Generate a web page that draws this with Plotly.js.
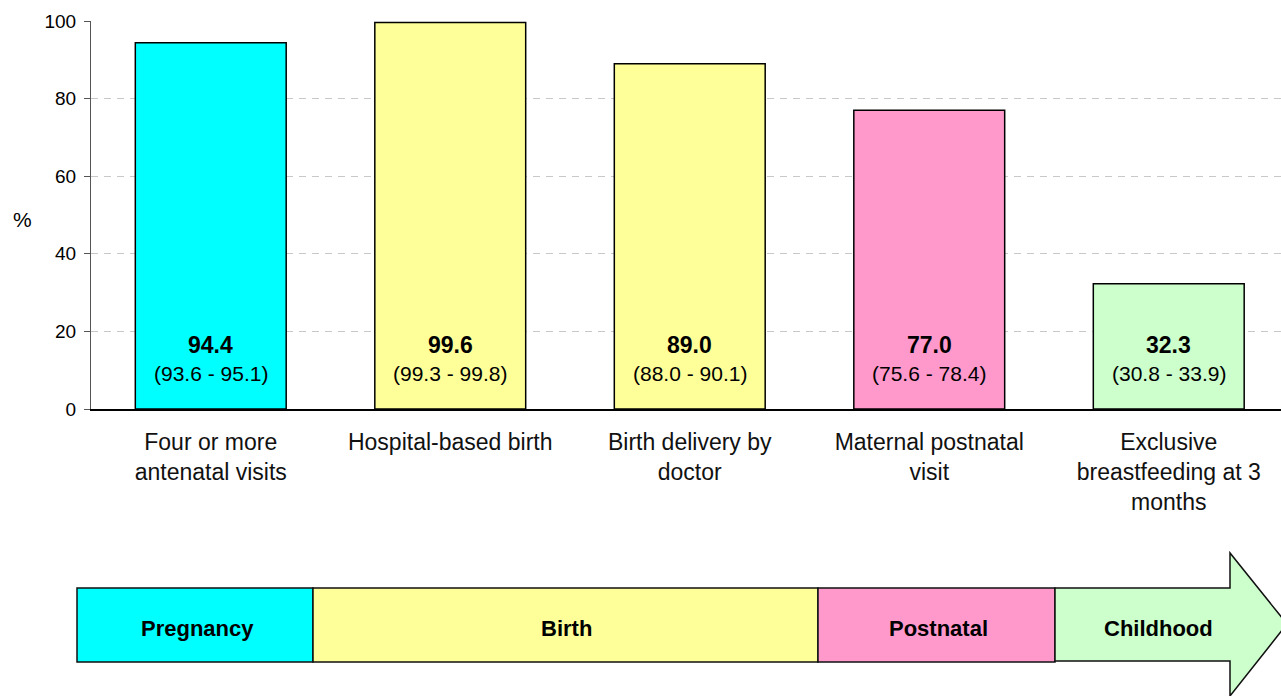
<!DOCTYPE html>
<html>
<head>
<meta charset="utf-8">
<script src="https://cdn.plot.ly/plotly-3.0.1.min.js"></script>
<style>html,body{margin:0;padding:0;overflow:hidden;background:#fff}#chart{width:1281px;height:696px}</style>
</head>
<body>
<div id="chart"></div>
<script>
const categories = [
  "Four or more<br>antenatal visits",
  "Hospital-based birth",
  "Birth delivery by<br>doctor",
  "Maternal postnatal<br>visit",
  "Exclusive<br>breastfeeding at 3<br>months"
];
const values = [94.4, 99.6, 89.0, 77.0, 32.3];
const ciLow = [93.6, 99.3, 88.0, 75.6, 30.8];
const ciHigh = [95.1, 99.8, 90.1, 78.4, 33.9];
const barColors = ["#00FFFF", "#FFFF99", "#FFFF99", "#FF99CC", "#CCFFCC"];
const stages = ["Pregnancy", "Birth", "Postnatal", "Childhood"];
const stageColors = ["#00FFFF", "#FFFF99", "#FF99CC", "#CCFFCC"];
const yTicks = [0, 20, 40, 60, 80, 100];

const FONT = "Liberation Sans, Arial, Helvetica, sans-serif";
const L = 91, T = 21, W = 1190, H = 388;
const px = x => (x - L) / W;
const py = y => (T + H - y) / H;

const trace = {
  type: "bar",
  x: categories,
  y: values,
  width: 0.63,
  marker: { color: barColors, line: { color: "#000", width: 1.5 } },
  hoverinfo: "skip"
};

const annotations = [];
categories.forEach((c, i) => {
  annotations.push({
    x: c, y: 16.5, xref: "x", yref: "y", showarrow: false,
    xanchor: "center", yanchor: "middle",
    text: "<b>" + values[i].toFixed(1) + "</b>",
    font: { family: FONT, size: 23, color: "#000" }
  });
  annotations.push({
    x: c, y: 9.2, xref: "x", yref: "y", showarrow: false,
    xanchor: "center", yanchor: "middle",
    text: "(" + ciLow[i].toFixed(1) + " - " + ciHigh[i].toFixed(1) + ")",
    font: { family: FONT, size: 21, color: "#000" }
  });
});
annotations.push({
  x: px(22), y: py(220), xref: "paper", yref: "paper", showarrow: false,
  xanchor: "center", yanchor: "middle",
  text: "%", font: { family: FONT, size: 21, color: "#000" }
});

const boxes = [[77, 313], [313, 818], [818, 1055]];
const shapes = [];
boxes.forEach((b, i) => {
  shapes.push({
    type: "rect", xref: "paper", yref: "paper",
    x0: px(b[0]), x1: px(b[1]), y0: py(662), y1: py(588),
    fillcolor: stageColors[i], line: { color: "#111", width: 1.5 }
  });
});
const arrowPts = [[1055, 588], [1230, 588], [1230, 553], [1287, 624], [1230, 696], [1230, 661], [1055, 661]];
shapes.push({
  type: "path", xref: "paper", yref: "paper",
  path: "M " + arrowPts.map(p => px(p[0]) + "," + py(p[1])).join(" L ") + " Z",
  fillcolor: stageColors[3], line: { color: "#111", width: 1.5 }
});
const stageCenters = [197, 566, 938, 1158];
stages.forEach((s, i) => {
  annotations.push({
    x: px(stageCenters[i]), y: py(628), xref: "paper", yref: "paper", showarrow: false,
    xanchor: "center", yanchor: "middle",
    text: "<b>" + s + "</b>", font: { family: FONT, size: 22, color: "#000" }
  });
});

const layout = {
  width: 1281, height: 696,
  margin: { l: L, r: 1281 - L - W, t: T, b: 696 - T - H, pad: 0 },
  paper_bgcolor: "#fff", plot_bgcolor: "#fff",
  showlegend: false,
  xaxis: {
    type: "category",
    range: [-0.5, -0.5 + W / 239.5],
    showline: true, linecolor: "#000", linewidth: 1.5,
    ticks: "", showgrid: false, zeroline: false,
    tickfont: { family: FONT, size: 23, color: "#111" },
    ticklabelstandoff: 12
  },
  yaxis: {
    range: [0, 100],
    tickvals: yTicks,
    ticks: "outside", ticklen: 6, tickcolor: "#555", tickwidth: 1,
    showline: true, linecolor: "#555", linewidth: 1,
    showgrid: true, gridcolor: "#c8c8c8", griddash: "7px,6px", gridwidth: 1,
    zeroline: false,
    tickfont: { family: FONT, size: 19, color: "#000" },
    ticklabelstandoff: 4
  },
  shapes: shapes,
  annotations: annotations
};

Plotly.newPlot("chart", [trace], layout, { displayModeBar: false, staticPlot: true });
</script>
</body>
</html>
